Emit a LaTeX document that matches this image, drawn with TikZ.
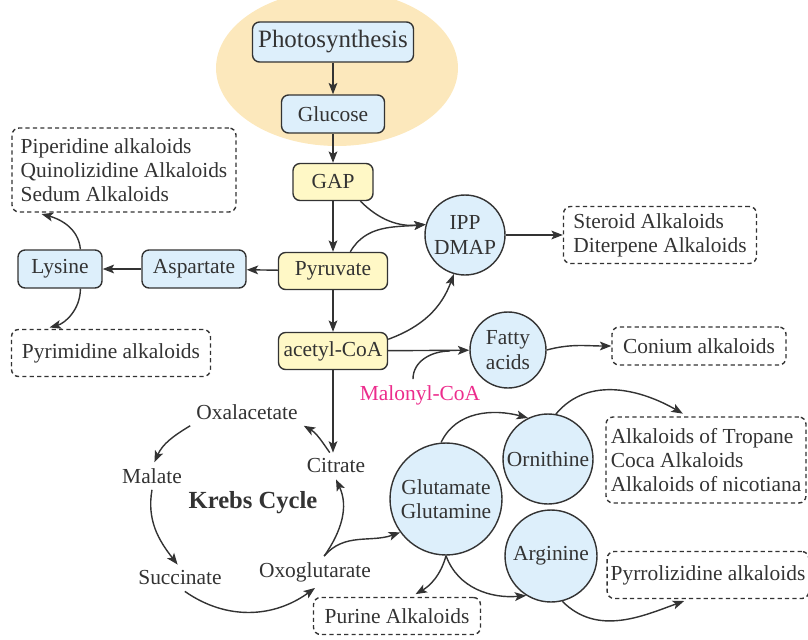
\documentclass[tikz,border=0pt]{standalone}
\usepackage{fontspec}
\setmainfont{Liberation Serif}
\usetikzlibrary{arrows.meta, calc}
\definecolor{textgray}{HTML}{333333}
\definecolor{boxblue}{HTML}{DDEFFB}
\definecolor{boxyellow}{HTML}{FFF8C6}
\definecolor{sunorange}{HTML}{FCE8BC}
\definecolor{malonylpink}{HTML}{EC2C8C}
\tikzset{
  every node/.style={font=\fontsize{12.2}{13.8}\selectfont, text=textgray},
  bluebox/.style={draw=textgray, line width=0.8pt, rounded corners=4pt, fill=boxblue, inner sep=2pt},
  yellowbox/.style={draw=textgray, line width=0.8pt, rounded corners=4pt, fill=boxyellow, inner sep=2pt},
  molecule/.style={circle, draw=textgray, line width=0.8pt, fill=boxblue, align=center, inner sep=1pt},
  alkbox/.style={draw=textgray, line width=0.8pt, dash pattern=on 2.4pt off 1.8pt, rounded corners=4pt, align=left, inner sep=2pt},
  arr/.style={draw=textgray, line width=0.8pt, -{Stealth[length=6.5pt,width=5pt,inset=1.5pt]}},
  gaparr/.style={arr, shorten >=3pt}
}
\begin{document}
\begin{tikzpicture}[x=0.02cm, y=-0.02cm]
        \useasboundingbox (0,0) rectangle (808,639);

        % Sun background
        \fill[sunorange] (337,68) ellipse [x radius=2.42cm, y radius=1.56cm];

        % Main pathway
        \node[bluebox, minimum width=3.22cm, minimum height=0.8cm, font=\fontsize{14.2}{16}\selectfont] (photo) at (333,42) {Photosynthesis};
        \node[bluebox, minimum width=2.06cm, minimum height=0.76cm] (glucose) at (333,114) {Glucose};
        \node[yellowbox, minimum width=1.6cm, minimum height=0.74cm] (gap) at (333,182) {GAP};
        \node[yellowbox, minimum width=2.18cm, minimum height=0.74cm] (pyruvate) at (333,271) {Pyruvate};
        \node[yellowbox, minimum width=2.18cm, minimum height=0.74cm] (acetyl) at (333,351) {acetyl-CoA};

        % Amino acids on the left
        \node[bluebox, minimum width=2.08cm, minimum height=0.76cm] (aspartate) at (194,269) {Aspartate};
        \node[bluebox, minimum width=1.68cm, minimum height=0.76cm] (lysine) at (60,269) {Lysine};

        % Circles
        \node[molecule, minimum size=1.6cm] (ipp) at (465,235) {IPP\\DMAP};
        \node[molecule, minimum size=1.52cm] (fatty) at (508,350) {Fatty\\acids};
        \node[molecule, minimum size=2.24cm] (glut) at (446,499) {Glutamate\\Glutamine};
        \node[molecule, minimum size=1.8cm] (orn) at (548,459) {Ornithine};
        \node[molecule, minimum size=1.84cm] (arg) at (551,556) {Arginine};

        % Alkaloid groups
        \node[alkbox, minimum width=4.48cm, minimum height=1.68cm] (piperidine) at (124,170) {Piperidine alkaloids\\Quinolizidine Alkaloids\\Sedum Alkaloids};
        \node[alkbox, minimum width=3.98cm, minimum height=0.94cm] (pyrimidine) at (111,353) {Pyrimidine alkaloids};
        \node[alkbox, minimum width=3.86cm, minimum height=1.14cm] (steroid) at (660,235) {Steroid Alkaloids\\Diterpene Alkaloids};
        \node[alkbox, minimum width=3.48cm, minimum height=0.76cm] (conium) at (699,346) {Conium alkaloids};
        \node[alkbox, minimum width=4.0cm, minimum height=1.72cm] (tropane) at (706,460) {Alkaloids of Tropane\\Coca Alkaloids\\Alkaloids of nicotiana};
        \node[alkbox, minimum width=3.92cm, minimum height=0.94cm] (pyrrol) at (708,575) {Pyrrolizidine alkaloids};
        \node[alkbox, minimum width=3.34cm, minimum height=0.74cm] (purine) at (397,616) {Purine Alkaloids};

        % Krebs cycle
        \node (oxal) at (247,412) {Oxalacetate};
        \node (citrate) at (336,466) {Citrate};
        \node (malate) at (152,476) {Malate};
        \node (succinate) at (180,578) {Succinate};
        \node (oxo) at (315,572) {Oxoglutarate};
        \node[font=\bfseries\fontsize{14}{16}\selectfont] (krebs) at (253,503) {Krebs Cycle};

        % Malonyl-CoA
        \node[text=malonylpink] (malonyl) at (420,395) {Malonyl-CoA};
        \coordinate (maljoin) at (450,351);

        % Draw straight arrows
        \draw[arr] (photo) -- (glucose);
        \draw[arr] (glucose) -- (gap);
        \draw[arr] (gap) -- (pyruvate);
        \draw[arr] (pyruvate) -- (acetyl);
        \draw[arr] (pyruvate) -- (aspartate);
        \draw[arr] (aspartate) -- (lysine);
        \draw[arr] (acetyl) -- (fatty);
        \draw[arr] (ipp) -- (steroid);
        \draw[arr] (acetyl) -- (acetyl |- citrate.north);

        % Draw curved arrows
        \draw[arr] (gap.-35) to[out=-45, in=185] (ipp.165);
        \draw[arr] (pyruvate.48) to[out=60, in=185] (ipp.165);
        \draw[arr] (acetyl.12) to[out=20, in=-110] (ipp.254);
        \draw[textgray, line width=0.8pt] ($(malonyl.north)+(-7,0)$) to[out=90, in=180] (maljoin);
        \draw[arr] (fatty.east) to[out=15, in=180] (conium.west);
        \draw[gaparr] (lysine.44) to[out=95, in=-15] (piperidine.206);
        \draw[gaparr] (lysine.-44) to[out=-90, in=15] (pyrimidine.160);

        % Draw the cycle
        \draw[arr] (citrate.115) to[out=125, in=-30] (oxal.south east);
        \draw[arr] (oxal.south west) to[out=211, in=66] (malate.80);
        \draw[arr] (malate.south) to[out=-100, in=128] (succinate.100);
        \draw[arr] (succinate.-70) to[out=-35, in=-144] (oxo.south);
        \draw[arr] (oxo.60) to[out=55, in=-65] (citrate.south);

        % Draw amino acid branches
        \draw[arr] (oxo.60) to[out=50, in=200] (glut.216);
        \draw[arr] (glut.95) to[out=65, in=165] (orn.116);
        \draw[gaparr] (orn.80) to[out=50, in=150] (tropane.113);
        \draw[gaparr] (glut.south) to[out=-105, in=30] (purine.54);
        \draw[arr] (glut.south) to[out=-70, in=185] (arg.238);
        \draw[gaparr] (arg.-76) to[out=-45, in=200] (pyrrol.232);
    \end{tikzpicture}
\end{document}
